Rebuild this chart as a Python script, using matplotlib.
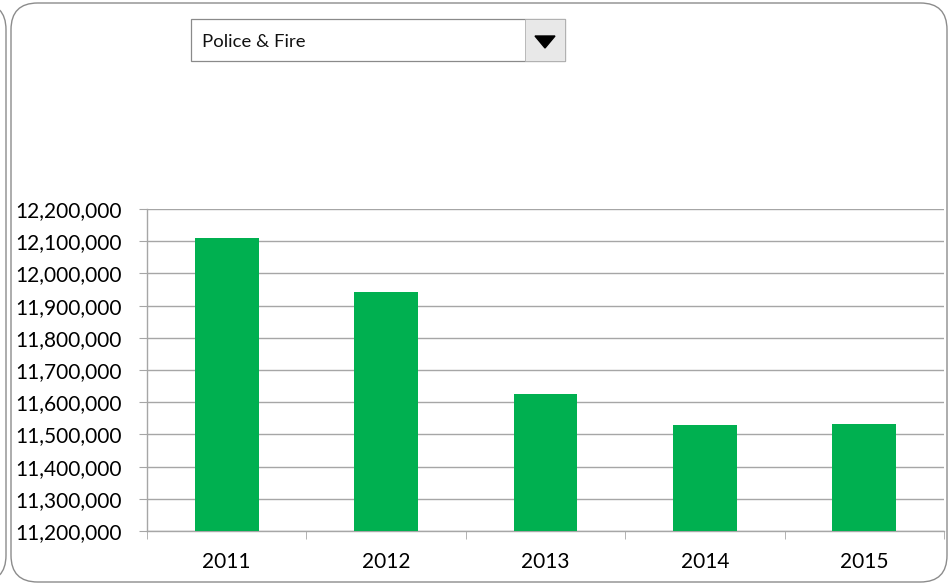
import numpy as np
import matplotlib.pyplot as plt
from matplotlib.patches import FancyBboxPatch, Rectangle, Polygon
from matplotlib.ticker import FuncFormatter, MultipleLocator

plt.rcParams['font.family'] = ['Lato', 'DejaVu Sans']

years = ['2011', '2012', '2013', '2014', '2015']
spending = [12110000, 11942000, 11627000, 11529000, 11532000]
selected = 'Police & Fire'

W, H = 952, 583
fig = plt.figure(figsize=(W / 100, H / 100), dpi=100)

# rounded panel frames
frame = FancyBboxPatch((11 / W, 1 / H), 936 / W, 579 / H,
                       boxstyle='round,pad=0,rounding_size=0.028',
                       transform=fig.transFigure, fill=False,
                       edgecolor='#8c8c8c', linewidth=1.0,
                       mutation_aspect=W / H)
fig.patches.append(frame)
left = FancyBboxPatch((-40 / W, 1 / H), 46 / W, 579 / H,
                      boxstyle='round,pad=0,rounding_size=0.028',
                      transform=fig.transFigure, fill=False,
                      edgecolor='#8c8c8c', linewidth=1.0,
                      mutation_aspect=W / H)
fig.patches.append(left)

# dropdown box
fig.patches.append(Rectangle((191 / W, 1 - 61 / H), 374 / W, 42 / H,
                             transform=fig.transFigure, facecolor='white',
                             edgecolor='#8a8a8a', linewidth=0.9))
fig.patches.append(Rectangle((525 / W, 1 - 61 / H), 40 / W, 42 / H,
                             transform=fig.transFigure, facecolor='#e8e8e8',
                             edgecolor='#b0b0b0', linewidth=0.6))
fig.patches.append(Polygon([(535 / W, 1 - 36 / H), (555 / W, 1 - 36 / H),
                            (545 / W, 1 - 48 / H)], closed=True,
                           transform=fig.transFigure, facecolor='black',
                           edgecolor='black'))
fig.text(202 / W, 1 - 42 / H, selected, fontsize=13.3, va='center',
         ha='left', color='#111111')

ax = fig.add_axes([147 / W, 1 - 531 / H, 797 / W, 322 / H])
x = np.arange(len(years))
ax.bar(x, spending, width=0.40, color='#00b050', zorder=3)

ax.set_ylim(11200000, 12200000)
ax.set_xlim(-0.5, len(years) - 0.5)
ax.yaxis.set_major_locator(MultipleLocator(100000))
ax.yaxis.set_major_formatter(FuncFormatter(lambda v, p: f'{v:,.0f}'))
ax.grid(axis='y', color='#a6a6a6', linewidth=1.0, zorder=0)

ax.set_xticks(x)
ax.set_xticklabels(years)
ax.set_xticks(np.arange(-0.5, len(years)), minor=True)
ax.tick_params(axis='x', which='major', length=0, pad=15, labelsize=15)
ax.tick_params(axis='x', which='minor', length=6, color='#a6a6a6', direction='out')
ax.tick_params(axis='y', length=6, color='#a6a6a6', labelsize=15, pad=12)

for s in ['top', 'right']:
    ax.spines[s].set_visible(False)
for s in ['left', 'bottom']:
    ax.spines[s].set_color('#a6a6a6')
    ax.spines[s].set_linewidth(1.0)

fig.savefig('out.png', dpi=100)
